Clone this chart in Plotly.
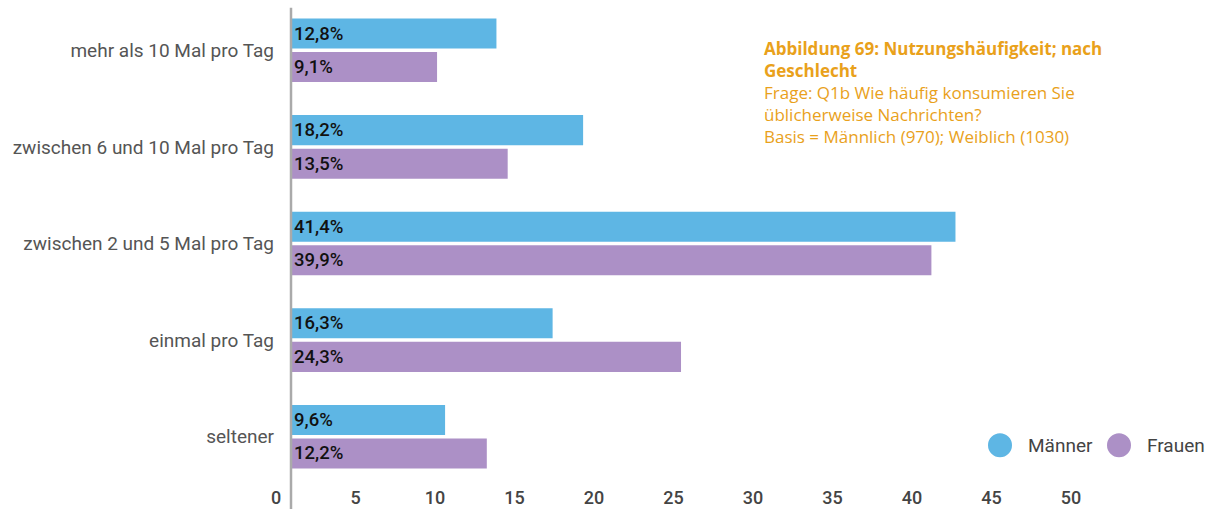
import plotly.graph_objects as go

# Nutzungshäufigkeit nach Geschlecht (Anteile in %)
kategorien = [
    "mehr als 10 Mal pro Tag",
    "zwischen 6 und 10 Mal pro Tag",
    "zwischen 2 und 5 Mal pro Tag",
    "einmal pro Tag",
    "seltener",
]
maenner = [12.8, 18.2, 41.4, 16.3, 9.6]
frauen = [9.1, 13.5, 39.9, 24.3, 12.2]
achsen_ticks = [0, 5, 10, 15, 20, 25, 30, 35, 40, 45, 50]

FARBE_M = "#5EB6E4"
FARBE_F = "#AC90C6"
ORANGE = "#E9A11B"

W, H = 1208, 509
L, R, T, B = 275, 0, 2.25, 24.25
plot_w = W - L - R
plot_h = H - T - B


def px_x(px):
    return (px - L) / plot_w


def px_y(py):
    return (H - B - py) / plot_h


fig = go.Figure()
for name, vals, farbe in [("Männer", maenner, FARBE_M), ("Frauen", frauen, FARBE_F)]:
    fig.add_trace(go.Bar(
        y=kategorien, x=vals, name=name, orientation="h",
        marker=dict(color=farbe, line=dict(width=0)),
        texttemplate="%{x:.1f}%", textposition="inside", insidetextanchor="start",
        textfont=dict(family="Roboto", size=18.5, color="#111111", weight=500),
        constraintext="none", showlegend=False, hoverinfo="skip",
    ))

# Achse nur für die Beschriftung der Werte
fig.add_trace(go.Scatter(x=[None], y=[None], xaxis="x2", showlegend=False, hoverinfo="skip"))

fig.update_layout(
    width=W, height=H,
    margin=dict(l=L, r=R, t=T, b=B, autoexpand=False),
    paper_bgcolor="white", plot_bgcolor="white",
    separators=",.",
    barmode="group", bargap=0.306, bargroupgap=0.104,
    xaxis=dict(range=[(L - 291) / 16.05, (W - 291) / 16.05], showgrid=False,
               zeroline=False, showticklabels=False, showline=False),
    xaxis2=dict(overlaying="x", side="bottom", anchor="y",
                range=[(L - 276) / 15.9, (W - 276) / 15.9],
                tickvals=achsen_ticks, showgrid=False, zeroline=False, showline=False,
                ticks="",
                tickfont=dict(family="Roboto", size=18, color="#444444", weight=500)),
    yaxis=dict(categoryorder="array", categoryarray=kategorien, autorange="reversed",
               showgrid=False, zeroline=False, showline=False, ticks="",
               tickfont=dict(family="Roboto", size=19, color="#555555")),
    showlegend=False,
)

# senkrechte Achsenlinie bei 0
fig.add_shape(type="line", xref="x", yref="paper", x0=0, x1=0,
              y0=px_y(509), y1=px_y(8), line=dict(color="#AAAAAA", width=2.5))

# Titel und Erläuterung
fig.add_annotation(
    xref="paper", yref="paper", x=px_x(762), y=px_y(35), xanchor="left", yanchor="top",
    align="left", showarrow=False,
    text=("<b>Abbildung 69: Nutzungshäufigkeit; nach<br>Geschlecht</b><br>"
          "Frage: Q1b Wie häufig konsumieren Sie<br>üblicherweise Nachrichten?<br>"
          "Basis = Männlich (970); Weiblich (1030)"),
    font=dict(family="Open Sans", size=17, color=ORANGE),
)

# Legende mit runden Symbolen
for name, farbe, cx, tx in [("Männer", FARBE_M, 1000, 1026), ("Frauen", FARBE_F, 1119, 1145)]:
    fig.add_shape(type="circle", xref="paper", yref="paper",
                  x0=px_x(cx - 12), x1=px_x(cx + 12), y0=px_y(445 + 12), y1=px_y(445 - 12),
                  fillcolor=farbe, line=dict(width=0))
    fig.add_annotation(xref="paper", yref="paper", x=px_x(tx), y=px_y(445),
                       xanchor="left", yanchor="middle", showarrow=False, text=name,
                       font=dict(family="Roboto", size=19, color="#444444"))

fig.write_html("out.html")
